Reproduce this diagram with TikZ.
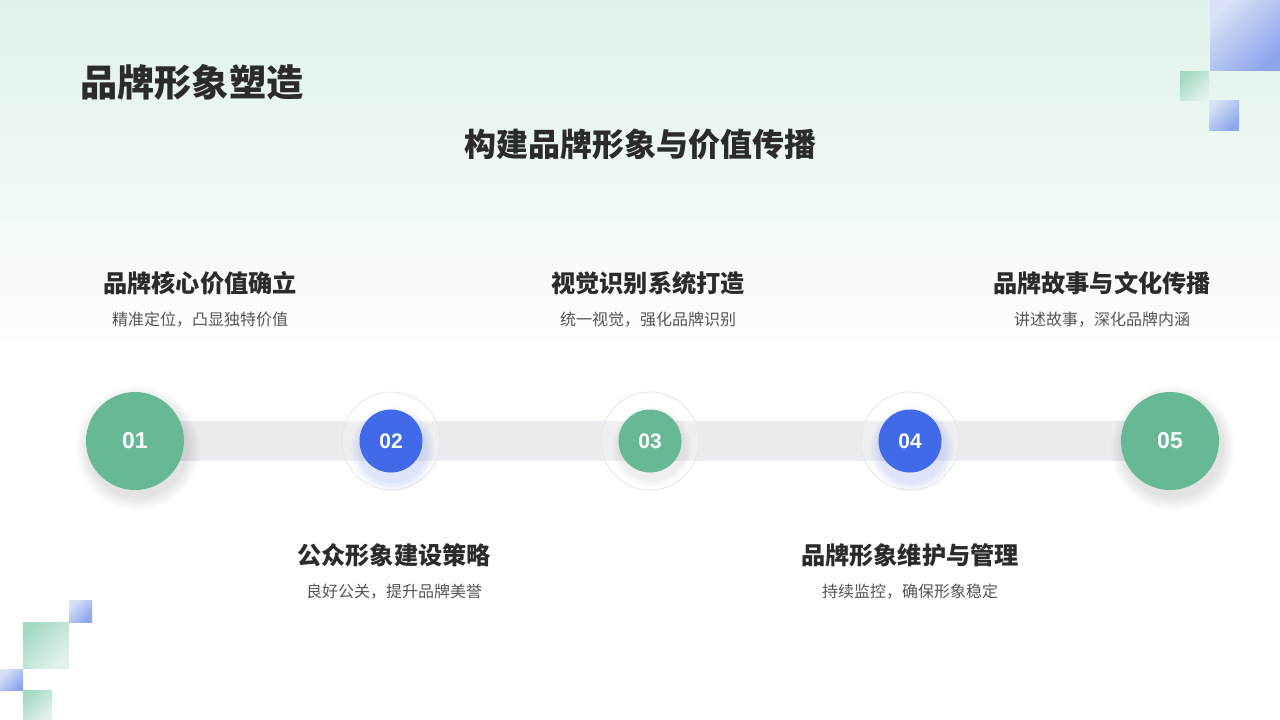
\documentclass[tikz,border=0pt]{standalone}
\usepackage{fontspec}
\newfontfamily\cjk{Noto Sans CJK SC}
\newfontfamily\numfont{Liberation Sans}
\definecolor{mint}{HTML}{E0F2EA}
\definecolor{gbar}{HTML}{EBECEF}
\definecolor{green1}{HTML}{66B994}
\definecolor{blue1}{HTML}{416AE8}
\definecolor{ringc}{HTML}{E6E6E8}
\definecolor{txtd}{HTML}{2B2B2B}
\definecolor{txtg}{HTML}{555555}
\definecolor{sqb}{HTML}{8EA6EC}
\definecolor{sqbl}{HTML}{D8E1F6}
\definecolor{sqg}{HTML}{A5D9C2}
\definecolor{sqgl}{HTML}{E2F2EA}
\tikzset{
  x=1pt,y=-1pt,
  bigc/.style={circle,fill=green1,minimum size=98pt,inner sep=0pt,text=white,font=\numfont\bfseries\fontsize{23}{26}\selectfont},
  smallc/.style={circle,minimum size=63pt,inner sep=0pt,text=white,font=\numfont\bfseries\fontsize{21}{24}\selectfont},
  ringnode/.style={circle,draw=ringc,line width=0.8pt,minimum size=98pt,inner sep=0pt},
  head/.style={font=\cjk\bfseries\fontsize{24.2}{28}\selectfont,text=txtd,inner sep=0pt},
  desc/.style={font=\cjk\fontsize{16}{19}\selectfont,text=txtg,inner sep=0pt},
  bsq/.style={left color=sqbl,right color=sqb,shading angle=45},
  gsq/.style={left color=sqg,right color=sqgl,shading angle=45}
}
\begin{document}
\begin{tikzpicture}
\useasboundingbox (0,0) rectangle (1280,720);
\fill[white] (0,0) rectangle (1280,720);
\shade[top color=mint,bottom color=white] (0,0) rectangle (1280,370);
% decorative squares
\shade[bsq] (1210,70) rectangle (1280,0);
\shade[gsq] (1180,100) rectangle (1209,71);
\shade[bsq] (1209,130) rectangle (1239,100);
\shade[bsq] (69,622) rectangle (92,600);
\shade[gsq] (23,668) rectangle (69,622);
\shade[bsq] (0,690) rectangle (23,669);
\shade[gsq] (23,720) rectangle (52,690);
% titles
\node[anchor=west,font=\cjk\bfseries\fontsize{37.2}{40}\selectfont,text=txtd,inner sep=0pt] (title) at (80,82) {品牌形象塑造};
\node[font=\cjk\bfseries\fontsize{32}{36}\selectfont,text=txtd,inner sep=0pt] (sub) at (640,144) {构建品牌形象与价值传播};
% bar
\fill[gbar] (135,421) rectangle (1170,461);
% shadows for big circles
\foreach \cx in {135,1170}{
  \foreach \r in {62,60,58,56,54,52,50}{
    \fill[black,opacity=0.014] (\cx+3,448) circle (\r);
  }
}
% rings
\node[ringnode,fill=white,fill opacity=0.2] (r2) at (391,441) {};
\node[ringnode,fill=white,fill opacity=0.2] (r3) at (650,441) {};
\node[ringnode,fill=white,fill opacity=0.2] (r4) at (910,441) {};
% glows
\foreach \cx in {391,910}{
  \foreach \r in {42,40,38,36,34}{
    \fill[blue1,opacity=0.035] (\cx+2,449) circle (\r);
  }
}
\foreach \r in {40,38,36,34}{
  \fill[black,opacity=0.015] (652,447) circle (\r);
}
% circles
\node[bigc] (c1) at (135,441) {01};
\node[smallc,fill=blue1] (c2) at (391,441) {02};
\node[smallc,fill=green1] (c3) at (650,441) {03};
\node[smallc,fill=blue1] (c4) at (910,441) {04};
\node[bigc] (c5) at (1170,441) {05};
% labels top
\node[head] (h1) at (200,283) {品牌核心价值确立};
\node[desc] (d1) at (200,320) {精准定位，凸显独特价值};
\node[head] (h3) at (648,283) {视觉识别系统打造};
\node[desc] (d3) at (648,320) {统一视觉，强化品牌识别};
\node[head] (h5) at (1102,283) {品牌故事与文化传播};
\node[desc] (d5) at (1102,320) {讲述故事，深化品牌内涵};
% labels bottom
\node[head] (h2) at (394,555) {公众形象建设策略};
\node[desc] (d2) at (394,592) {良好公关，提升品牌美誉};
\node[head] (h4) at (910,555) {品牌形象维护与管理};
\node[desc] (d4) at (910,592) {持续监控，确保形象稳定};
\end{tikzpicture}
\end{document}
